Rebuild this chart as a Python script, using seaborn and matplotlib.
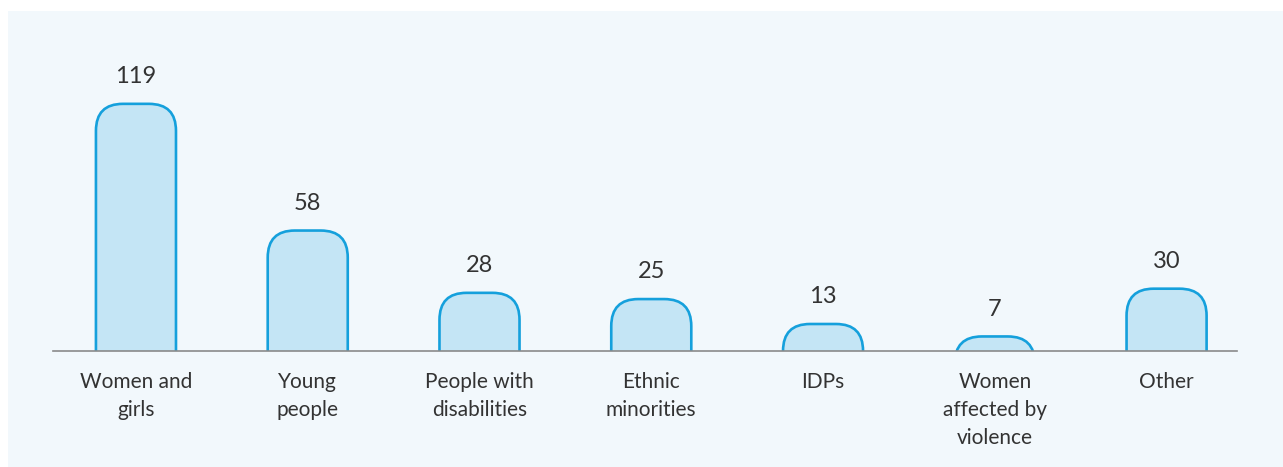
import matplotlib
matplotlib.use("Agg")
import matplotlib.pyplot as plt
from matplotlib.patches import FancyBboxPatch, Rectangle
import seaborn as sns
import pandas as pd

# Beneficiary groups and number of projects targeting each
categories = ["Women and\ngirls", "Young\npeople", "People with\ndisabilities",
              "Ethnic\nminorities", "IDPs", "Women\naffected by\nviolence", "Other"]
counts = [119, 58, 28, 25, 13, 7, 30]

PANEL = "#f2f8fc"
FILL = "#c4e5f5"
EDGE = "#15a0dc"
TEXT = "#333333"

sns.set_theme(style="white")
plt.rcParams["font.family"] = ["Lato", "DejaVu Sans"]

W, H = 1283, 467
fig = plt.figure(figsize=(W / 100, H / 100), dpi=100, facecolor="white")
fig.patches.append(Rectangle((8 / W, 0), 1 - 8 / W, 1 - 11 / H,
                             transform=fig.transFigure, facecolor=PANEL,
                             edgecolor="none", zorder=-10))

ax = fig.add_axes([53 / W, 116 / H, (1237 - 53) / W, (351 - 81) / H])
ax.set_facecolor("none")

df = pd.DataFrame({"group": categories, "count": counts})
sns.barplot(data=df, x="group", y="count", ax=ax, width=0.466,
            color=FILL, saturation=1, edgecolor=EDGE, linewidth=0)

ax.set_xlim(-0.483, 6.41)
ax.set_ylim(0, 130)

# Swap the plain rectangles for bars with rounded tops; the rounded
# bottom is pushed below the baseline and clipped away by the axes.
px_per_x = (1237 - 53) / (6.41 + 0.483)
px_per_y = (351 - 81) / 130
radius_px = 27
r_x = radius_px / px_per_x
aspect = px_per_x / px_per_y
below = 32
for bar in list(ax.patches):
    x0, w, h = bar.get_x(), bar.get_width(), bar.get_height()
    bar.remove()
    rb = FancyBboxPatch((x0, -below), w, h + below,
                        boxstyle=f"round,pad=0,rounding_size={r_x}",
                        mutation_aspect=aspect,
                        facecolor=FILL, edgecolor=EDGE, linewidth=1.9,
                        zorder=2)
    ax.add_patch(rb)
    ax.annotate(f"{h:g}", xy=(x0 + w / 2, h), xytext=(0, 12),
                textcoords="offset points", ha="center", va="bottom",
                fontsize=17, color=TEXT)

for s in ["top", "right", "left"]:
    ax.spines[s].set_visible(False)
ax.spines["bottom"].set_color("#8a8a8a")
ax.spines["bottom"].set_linewidth(1.2)
ax.spines["bottom"].set_zorder(3)

ax.set_yticks([])
ax.set_xlabel("")
ax.set_ylabel("")
ax.tick_params(axis="x", length=0, pad=15, labelsize=15, labelcolor=TEXT)
for lbl in ax.get_xticklabels():
    lbl.set_linespacing(1.5)
    lbl.set_verticalalignment("top")

fig.savefig("out.png", dpi=100, facecolor=fig.get_facecolor())
